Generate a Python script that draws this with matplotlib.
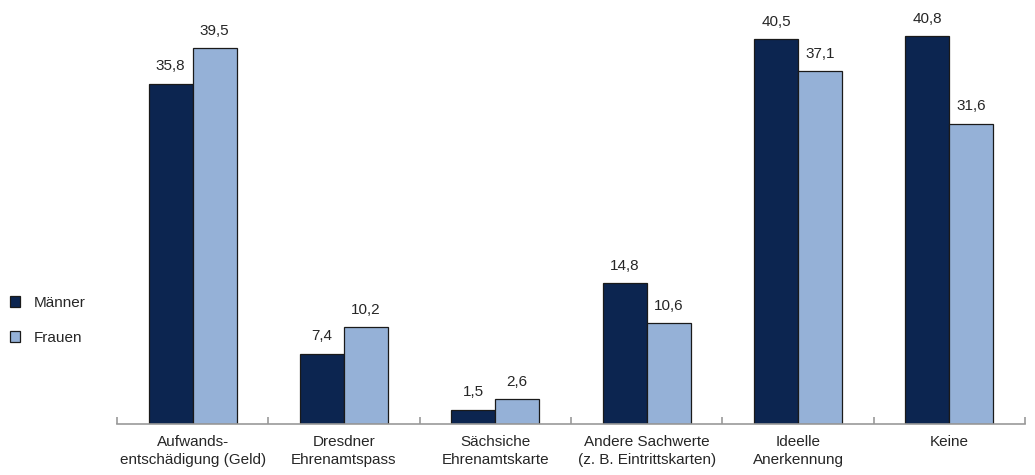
import matplotlib
matplotlib.use("Agg")
import matplotlib.pyplot as plt
import matplotlib.font_manager as fm
import numpy as np

categories = ["Aufwands-\nentschädigung (Geld)", "Dresdner\nEhrenamtspass",
              "Sächsiche\nEhrenamtskarte", "Andere Sachwerte\n(z. B. Eintrittskarten)",
              "Ideelle\nAnerkennung", "Keine"]
maenner = [35.8, 7.4, 1.5, 14.8, 40.5, 40.8]
frauen = [39.5, 10.2, 2.6, 10.6, 37.1, 31.6]
series_names = ["Männer", "Frauen"]

names = {f.name for f in fm.fontManager.ttflist}
family = "Liberation Sans Narrow" if "Liberation Sans Narrow" in names else "Liberation Sans"
plt.rcParams["font.family"] = [family, "DejaVu Sans"]

dark = "#0c2550"
light = "#95b1d7"
txt = "#262626"

fig = plt.figure(figsize=(10.35, 4.75), dpi=100)
ax = fig.add_axes([117 / 1035, 51 / 475, 908 / 1035, 424 / 475])

x = np.arange(len(categories))
w = 0.29
ax.bar(x - w / 2, maenner, w, color=dark, edgecolor="#1a1a1a", linewidth=0.9, label=series_names[0])
ax.bar(x + w / 2, frauen, w, color=light, edgecolor="#1a1a1a", linewidth=0.9, label=series_names[1])

for i in range(len(categories)):
    for off, v in ((-w / 2, maenner[i]), (w / 2, frauen[i])):
        ax.text(x[i] + off, v + 1.1, f"{v:.1f}".replace(".", ","), ha="center", va="bottom",
                fontsize=11, color=txt)

ax.set_xlim(-0.5, len(categories) - 0.5)
ax.set_ylim(0, 44.6)
for s in ["top", "right", "left"]:
    ax.spines[s].set_visible(False)
ax.spines["bottom"].set_color("#999999")
ax.spines["bottom"].set_linewidth(1.2)
ax.set_yticks([])

ax.set_xticks(np.arange(-0.5, len(categories)), minor=False)
ax.set_xticklabels([])
ax.tick_params(axis="x", direction="in", length=5, color="#999999", width=1.2)
ax.set_xticks(x, minor=True)
ax.set_xticklabels(categories, minor=True, fontsize=11, color=txt, linespacing=1.35)
ax.tick_params(axis="x", which="minor", length=0, pad=8)

fig.legend(loc="upper left", bbox_to_anchor=(-0.004, 0.406), frameon=False, fontsize=11,
           handlelength=0.7, handleheight=0.7, handletextpad=0.9, labelspacing=1.35,
           labelcolor=txt)

fig.savefig("out.png", dpi=100)
